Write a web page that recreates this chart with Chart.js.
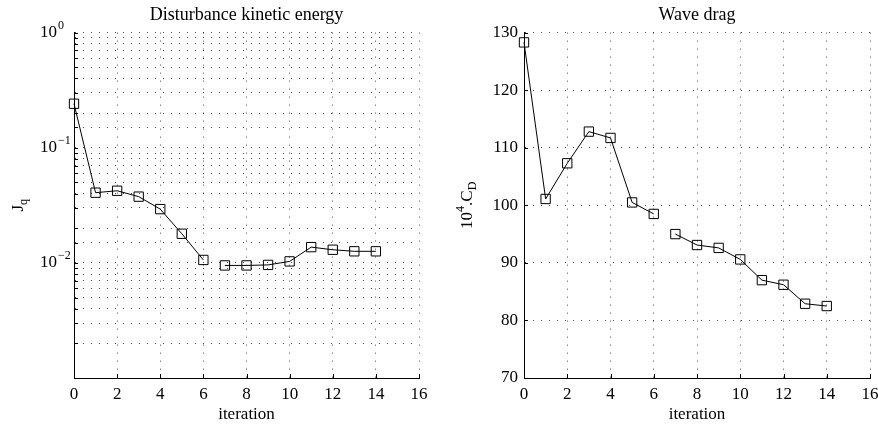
<!DOCTYPE html>
<html>
<head>
<meta charset="utf-8">
<script src="https://cdn.jsdelivr.net/npm/chart.js@4.4.0/dist/chart.umd.min.js"></script>
<style>
  body { margin: 0; background: #fff; }
  .wrap { position: absolute; top: 0; width: 439px; height: 429px; }
</style>
</head>
<body>
<div class="wrap" style="left:0"><canvas id="EnergyChart"></canvas></div>
<div class="wrap" style="left:439px"><canvas id="DragChart"></canvas></div>
<script>
  // data
  const iterations = [0, 1, 2, 3, 4, 5, 6, 7, 8, 9, 10, 11, 12, 13, 14];
  const kineticEnergy = [0.241, 0.0407, 0.0423, 0.0376, 0.0293, 0.0179, 0.0106,
    0.0095, 0.0095, 0.0096, 0.0103, 0.0137, 0.0130, 0.0126, 0.0126];
  const waveDrag = [128.3, 101.1, 107.3, 112.8, 111.7, 100.5, 98.5,
    95.0, 93.1, 92.6, 90.6, 87.0, 86.2, 82.9, 82.5];
  const gapAfter = 6; // line is broken between iteration 6 and 7

  // tick labels
  const decadeValues = [1, 0.1, 0.01];
  const decadeExponents = ['0', '\u22121', '\u22122'];

  const SERIF = '"Liberation Serif", "Times New Roman", serif';

  const toPoints = vals => iterations.map((x, i) => ({ x: x, y: vals[i] }));

  // draws 10^n labels on the log axis
  const decadeLabels = {
    id: 'decadeLabels',
    afterDraw(chart) {
      const ctx = chart.ctx, y = chart.scales.y;
      const x0 = chart.chartArea.left - 17;
      ctx.save();
      ctx.fillStyle = '#000';
      ctx.textBaseline = 'middle';
      decadeValues.forEach((v, i) => {
        const py = y.getPixelForValue(v);
        ctx.font = '17px ' + SERIF;
        ctx.textAlign = 'right';
        ctx.fillText('10', x0, py);
        ctx.font = '12px ' + SERIF;
        ctx.textAlign = 'left';
        ctx.fillText(decadeExponents[i], x0 + 1, py - 7);
      });
      ctx.restore();
    }
  };

  // small inward tick marks, matlab style
  const innerTicks = {
    id: 'innerTicks',
    beforeDatasetsDraw(chart) {
      const ctx = chart.ctx, a = chart.chartArea;
      ctx.save();
      ctx.strokeStyle = '#000';
      ctx.lineWidth = 1;
      ctx.beginPath();
      chart.scales.x.ticks.forEach(t => {
        const px = Math.round(chart.scales.x.getPixelForValue(t.value)) + 0.5;
        ctx.moveTo(px, a.bottom);
        ctx.lineTo(px, a.bottom - 4);
      });
      chart.scales.y.ticks.forEach(t => {
        const py = Math.round(chart.scales.y.getPixelForValue(t.value)) + 0.5;
        ctx.moveTo(a.left, py);
        ctx.lineTo(a.left + 4, py);
      });
      ctx.stroke();
      ctx.restore();
    }
  };

  // rotated y-axis title with sub/superscripts
  function richTitle(parts, cx) {
    return {
      id: 'richTitle',
      afterDraw(chart) {
        const ctx = chart.ctx;
        const cy = (chart.chartArea.top + chart.chartArea.bottom) / 2;
        ctx.save();
        ctx.translate(cx, cy);
        ctx.rotate(-Math.PI / 2);
        ctx.fillStyle = '#000';
        ctx.textBaseline = 'alphabetic';
        ctx.textAlign = 'left';
        let total = 0;
        parts.forEach(p => { ctx.font = p.size + 'px ' + SERIF; total += ctx.measureText(p.t).width; });
        let x = -total / 2;
        parts.forEach(p => {
          ctx.font = p.size + 'px ' + SERIF;
          ctx.fillText(p.t, x, 6 + p.dy);
          x += ctx.measureText(p.t).width;
        });
        ctx.restore();
      }
    };
  }

  function gridStyle() {
    return { color: 'rgba(0,0,0,0.7)', lineWidth: 1, drawTicks: false };
  }
  function borderStyle() {
    // in v4 border.dash is the dash of the grid lines, the axis line stays solid
    return { color: '#000', width: 1, dash: [1, 7] };
  }

  function makeConfig(title, vals, yScale, plugins, leftWidth, rightPad) {
    return {
      type: 'line',
      data: {
        datasets: [{
          data: toPoints(vals),
          borderColor: '#000',
          borderWidth: 1,
          pointStyle: 'rect',
          pointRadius: 6.6,
          pointBorderWidth: 1,
          pointBorderColor: '#000',
          pointBackgroundColor: 'rgba(0,0,0,0)',
          tension: 0,
          clip: false,
          segment: {
            borderColor: c => c.p0.parsed.x === gapAfter ? 'rgba(0,0,0,0)' : '#000'
          }
        }]
      },
      options: {
        responsive: true,
        maintainAspectRatio: false,
        animation: false,
        layout: { padding: { left: 0, right: rightPad, top: 0, bottom: 0 } },
        scales: {
          x: {
            type: 'linear',
            min: 0,
            max: 16,
            grid: gridStyle(),
            border: borderStyle(),
            ticks: { stepSize: 2, padding: 6, color: '#000', font: { family: SERIF, size: 17 } },
            title: {
              display: true,
              text: 'iteration',
              color: '#000',
              font: { family: SERIF, size: 17 },
              padding: { top: 0, bottom: 4 }
            },
            afterFit: s => { s.height = 51; s.paddingLeft = 0; s.paddingRight = 0; }
          },
          y: Object.assign(yScale, {
            grid: gridStyle(),
            border: borderStyle(),
            afterFit: s => { s.width = leftWidth; }
          })
        },
        plugins: {
          legend: { display: false },
          tooltip: { enabled: false },
          title: {
            display: true,
            text: title,
            color: '#000',
            fullSize: false,
            font: { family: SERIF, size: 18, weight: 'normal' },
            padding: { top: 4, bottom: 7 }
          }
        }
      },
      plugins: plugins
    };
  }

  const energyConfig = makeConfig('Disturbance kinetic energy', kineticEnergy, {
    type: 'logarithmic',
    min: 0.001,
    max: 1,
    ticks: { display: false, autoSkip: false }
  }, [innerTicks, decadeLabels, richTitle([{ t: 'J', size: 17, dy: 0 }, { t: 'q', size: 12, dy: 4 }], 17)], 74, 20);

  const dragConfig = makeConfig('Wave drag', waveDrag, {
    type: 'linear',
    min: 70,
    max: 130,
    ticks: { stepSize: 10, padding: 6, color: '#000', font: { family: SERIF, size: 17 } }
  }, [innerTicks, richTitle([
    { t: '10', size: 17, dy: 0 },
    { t: '4', size: 12, dy: -8 },
    { t: '.C', size: 17, dy: 0 },
    { t: 'D', size: 12, dy: 4 }
  ], 27)], 85, 8);

  const EnergyChart = new Chart(document.getElementById('EnergyChart'), energyConfig);
  const DragChart = new Chart(document.getElementById('DragChart'), dragConfig);
</script>
</body>
</html>
